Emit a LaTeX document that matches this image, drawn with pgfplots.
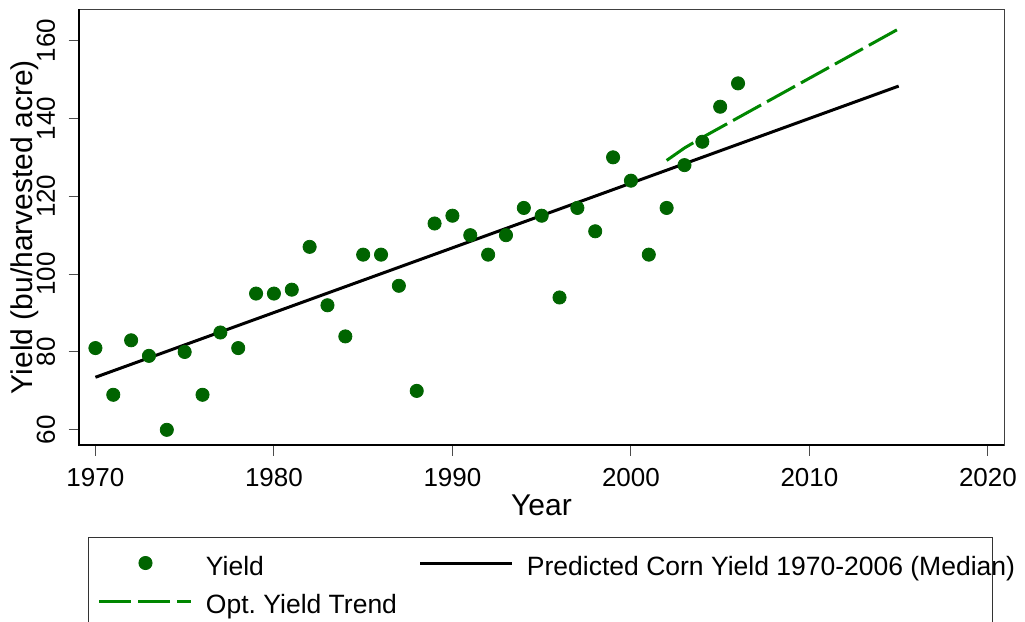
\documentclass[border=0pt]{standalone}
\usepackage{pgfplots}
\pgfplotsset{compat=1.18}
\usepackage{fontspec}
\setmainfont{Liberation Sans}
\definecolor{dkgreen}{RGB}{0,100,0}
\definecolor{ltgreen}{RGB}{0,135,0}
\pgfplotsset{
  dotlegend/.style={legend image code/.code={\path[draw=none,fill=none] (0pt,6pt) -- (46pt,6pt); \draw[##1] plot coordinates {(23pt,6pt)};}},
  linelegend/.style={legend image code/.code={\draw[##1] (0pt,6pt) -- (46pt,6pt);}},
}
\begin{document}
\frenchspacing
\begin{tikzpicture}
\path[use as bounding box] (0,0) rectangle (512.5pt,-311pt);
\begin{axis}[
  at={(39.5pt,-222.5pt)}, anchor=south west,
  scale only axis, width=462.5pt, height=218pt,
  xmin=1969.08, xmax=2020.9, ymin=56.1, ymax=168.1,
  xtick={1970,1980,...,2020}, ytick={60,80,...,160},
  tick pos=left, tick align=outside, major tick length=5.25pt,
  every tick/.style={black!70, line width=0.5pt},
  axis line style={black!75, line width=0.5pt},
  clip=false,
  /pgf/number format/assume math mode=true,
  /pgf/number format/1000 sep={},
  x tick label style={font=\fontsize{13}{15}\selectfont, anchor=north, inner sep=0pt, yshift=-6.25pt},
  y tick label style={font=\fontsize{13}{15}\selectfont, xshift=-6.5pt, rotate=90, anchor=south, inner sep=0pt},
  xlabel={Year},
  xlabel style={font=\fontsize{15}{18}\selectfont, at={(axis description cs:0.5,-0.1628)}, anchor=base, inner sep=0pt},
  ylabel={Yield (bu/harvested acre)},
  ylabel style={font=\fontsize{15}{18}\selectfont, at={(axis description cs:-0.0508,0.5)}, anchor=base, inner sep=0pt},
  legend columns=2,
  legend style={draw=none, fill=none, at={(axis description cs:0.02054,-0.2523)}, anchor=north west,
    inner sep=0pt, outer sep=0pt, font=\fontsize{13.25}{16}\selectfont,
    cells={anchor=base west}, nodes={inner sep=0pt, text height=10pt, text depth=3pt},
    row sep=6pt,
    /tikz/every odd column/.append style={column sep=6.5pt},
    /tikz/every even column/.append style={column sep=11pt}},
]
\addplot[only marks, mark=*, mark size=3.3pt, color=dkgreen, mark options={draw=dkgreen, fill=dkgreen}, dotlegend]
coordinates {
(1970,81) (1971,69) (1972,83) (1973,79) (1974,60) (1975,80) (1976,69) (1977,85) (1978,81) (1979,95)
(1980,95) (1981,96) (1982,107) (1983,92) (1984,84) (1985,105) (1986,105) (1987,97) (1988,70) (1989,113)
(1990,115) (1991,110) (1992,105) (1993,110) (1994,117) (1995,115) (1996,94) (1997,117) (1998,111) (1999,130)
(2000,124) (2001,105) (2002,117) (2003,128) (2004,134) (2005,143) (2006,149)
};
\addlegendentry{Yield}
\addplot[black, line width=1.5pt, linelegend]
coordinates {(1970,73.5) (2015,148.3)};
\addlegendentry{Predicted Corn Yield 1970-2006 (Median)}
\addplot[ltgreen, line width=1.5pt, dash pattern=on 16pt off 3.4pt, linelegend]
coordinates {(2002,129.2) (2003,132.4) (2004,135.1) (2015,163.0)};
\addlegendentry{Opt.\ Yield Trend}
\draw[black, line width=1pt] (rel axis cs:0,1) -- (rel axis cs:0,0) -- (rel axis cs:1,0);
\end{axis}
\draw[black!80, line width=0.5pt] (44pt,-268.75pt) rectangle (496pt,-330pt);
\end{tikzpicture}
\end{document}
